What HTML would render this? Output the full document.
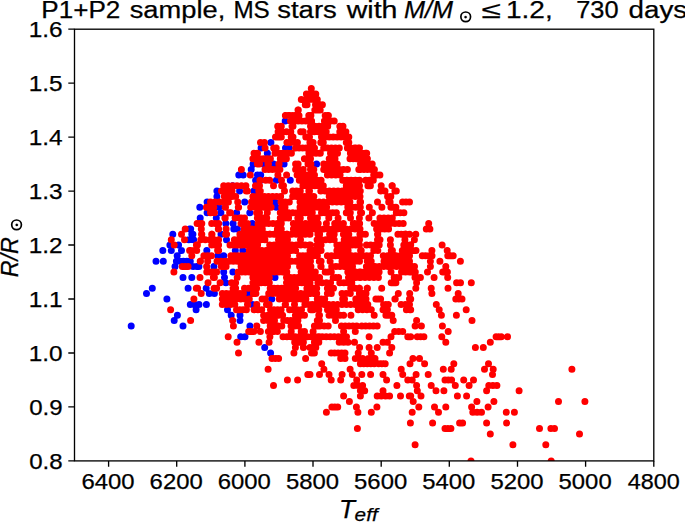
<!DOCTYPE html>
<html><head><meta charset="utf-8"><style>
html,body{margin:0;padding:0;background:#fff;width:685px;height:522px;overflow:hidden}
svg{display:block;font-family:"Liberation Sans", sans-serif}
</style></head><body>
<svg width="685" height="522" viewBox="0 0 685 522">
<rect width="685" height="522" fill="#fff"/>
<defs><clipPath id="c"><rect x="74.5" y="29.2" width="579.3" height="431.7"/></clipPath></defs>
<g clip-path="url(#c)">
<path fill="none" stroke="#0000ff" stroke-width="7.0" stroke-linecap="round" d="M227.5 309.8h0M231.2 315.2h0M240.7 336.8h0M245.0 336.8h0M264.7 347.6h0M270.6 353.0h0M172.8 234.3h0M191.8 234.3h0M188.8 239.7h0M169.9 245.1h0M178.6 245.1h0M162.8 250.4h0M171.3 250.4h0M181.5 250.4h0M177.2 255.8h0M156.0 261.2h0M163.3 261.2h0M176.4 261.2h0M179.9 261.2h0M183.4 261.2h0M186.8 261.2h0M190.3 261.2h0M175.0 266.6h0M193.2 266.6h0M196.8 266.6h0M183.0 277.4h0M191.8 277.4h0M152.3 288.2h0M188.1 288.2h0M146.5 293.6h0M209.3 293.6h0M166.9 299.0h0M190.3 304.4h0M194.7 304.4h0M199.0 304.4h0M206.4 304.4h0M196.1 309.8h0M131.2 326.0h0M183.0 326.0h0M177.4 315.2h0M174.2 320.6h0M207.1 201.9h0M199.8 207.3h0M207.1 212.7h0M189.6 228.9h0M172.8 234.3h0M242.8 250.4h0M275.0 277.4h0M214.4 293.6h0M227.5 309.8h0M316.6 164.1h0M253.1 164.1h0M251.2 169.5h0M238.8 174.9h0M243.2 174.9h0M257.4 174.9h0M255.6 180.3h0M232.6 185.7h0M216.9 191.1h0M239.6 191.1h0M253.8 191.1h0M216.9 196.5h0M263.3 164.1h0M273.5 164.1h0M284.1 164.1h0M260.7 174.9h0M260.7 180.3h0M276.4 180.3h0M290.3 180.3h0M216.9 196.5h0M244.7 201.9h0M218.8 207.3h0M220.9 212.7h0M236.6 212.7h0M249.8 212.7h0M252.3 223.5h0M275.0 201.9h0M276.4 207.3h0M285.2 120.9h0M270.9 142.5h0M261.1 147.9h0M285.5 147.9h0M289.2 147.9h0M267.3 153.3h0M267.4 153.3h0M200.2 218.1h0M216.3 218.1h0M225.8 223.5h0M233.1 223.5h0M190.7 228.9h0M233.8 228.9h0M237.4 228.9h0M192.9 234.3h0M221.0 234.3h0M193.6 239.7h0M226.5 239.7h0M206.8 250.4h0M235.3 250.4h0M248.0 293.6h0M271.8 299.0h0M252.4 304.4h0M240.0 315.2h0M240.0 320.6h0M249.9 326.0h0M271.5 299.0h0M217.9 255.8h0M223.7 255.8h0M198.9 266.6h0M213.9 266.6h0M223.7 272.0h0M232.9 272.0h0M224.5 277.4h0M225.9 282.8h0M206.2 288.2h0"/>
<path fill="none" stroke="#ff0000" stroke-width="7.0" stroke-linecap="round" d="M519.1 390.7h0M558.5 401.5h0M584.9 401.5h0M514.4 412.3h0M539.5 428.5h0M550.9 428.5h0M554.5 428.5h0M579.5 433.9h0M512.9 444.7h0M545.8 444.7h0M551.2 460.9h0M571.9 369.2h0M417.3 390.7h0M436.0 390.7h0M443.9 390.7h0M486.6 390.7h0M410.7 396.1h0M421.0 396.1h0M457.4 396.1h0M466.6 396.1h0M413.2 401.5h0M476.9 401.5h0M493.9 401.5h0M418.8 406.9h0M434.5 406.9h0M445.8 406.9h0M471.6 406.9h0M488.1 406.9h0M412.2 412.3h0M438.5 412.3h0M472.8 412.3h0M477.1 412.3h0M481.5 412.3h0M506.3 412.3h0M410.4 423.1h0M432.6 423.1h0M459.6 423.1h0M462.6 423.1h0M486.6 423.1h0M506.6 423.1h0M445.0 428.5h0M447.9 428.5h0M450.9 428.5h0M490.3 433.9h0M415.1 444.7h0M471.0 460.9h0M410.7 309.8h0M439.2 309.8h0M466.2 309.8h0M441.4 315.2h0M456.4 315.2h0M416.6 320.6h0M472.0 320.6h0M415.1 326.0h0M421.4 326.0h0M442.4 326.0h0M448.2 331.4h0M410.7 336.8h0M417.3 336.8h0M420.6 336.8h0M423.9 336.8h0M441.8 336.8h0M496.1 336.8h0M498.6 336.8h0M501.2 336.8h0M507.5 336.8h0M445.8 342.2h0M490.3 342.2h0M475.4 347.6h0M483.3 347.6h0M412.9 358.4h0M419.5 358.4h0M410.0 363.8h0M424.6 363.8h0M453.8 363.8h0M488.5 363.8h0M443.3 369.2h0M451.2 369.2h0M484.5 369.2h0M493.2 369.2h0M416.1 374.6h0M428.2 374.6h0M492.5 374.6h0M412.2 380.0h0M445.0 380.0h0M448.3 380.0h0M451.6 380.0h0M463.7 380.0h0M473.5 380.0h0M416.6 385.4h0M431.2 385.4h0M455.3 385.4h0M469.1 385.4h0M488.8 385.4h0M492.9 385.4h0M496.9 385.4h0M353.8 385.4h0M358.2 385.4h0M362.6 385.4h0M396.9 385.4h0M360.4 390.7h0M364.7 390.7h0M383.0 390.7h0M343.6 396.1h0M360.4 396.1h0M377.2 396.1h0M381.3 396.1h0M385.5 396.1h0M389.6 396.1h0M400.5 396.1h0M409.3 396.1h0M349.4 401.5h0M331.9 406.9h0M334.8 406.9h0M337.7 406.9h0M356.4 406.9h0M376.9 406.9h0M326.4 412.3h0M357.9 412.3h0M371.3 412.3h0M357.4 428.5h0M318.8 309.8h0M327.5 309.8h0M331.9 309.8h0M336.3 309.8h0M358.2 309.8h0M362.6 309.8h0M366.9 309.8h0M371.3 309.8h0M383.0 309.8h0M387.4 309.8h0M406.4 309.8h0M410.0 309.8h0M329.0 315.2h0M332.6 315.2h0M336.3 315.2h0M340.0 315.2h0M343.6 315.2h0M350.9 315.2h0M374.2 315.2h0M385.9 315.2h0M388.9 315.2h0M391.8 315.2h0M335.5 320.6h0M393.2 320.6h0M319.9 326.0h0M324.1 326.0h0M328.2 326.0h0M341.4 326.0h0M345.2 326.0h0M349.0 326.0h0M352.9 326.0h0M356.7 326.0h0M361.8 326.0h0M365.6 326.0h0M369.5 326.0h0M373.4 326.0h0M377.2 326.0h0M343.6 331.4h0M355.3 331.4h0M394.7 331.4h0M398.7 331.4h0M402.7 331.4h0M318.1 336.8h0M322.2 336.8h0M326.2 336.8h0M330.3 336.8h0M334.3 336.8h0M338.4 336.8h0M342.4 336.8h0M346.5 336.8h0M369.1 336.8h0M391.0 336.8h0M407.8 336.8h0M314.4 342.2h0M318.8 342.2h0M339.2 342.2h0M343.6 342.2h0M348.0 342.2h0M354.5 342.2h0M383.0 342.2h0M387.4 342.2h0M310.0 347.6h0M312.9 347.6h0M315.8 347.6h0M359.6 347.6h0M369.1 347.6h0M377.2 347.6h0M391.8 347.6h0M311.5 353.0h0M314.4 353.0h0M331.2 353.0h0M334.6 353.0h0M338.1 353.0h0M341.6 353.0h0M345.0 353.0h0M358.2 353.0h0M371.3 353.0h0M389.6 353.0h0M340.7 358.4h0M345.0 358.4h0M355.3 358.4h0M359.0 358.4h0M362.6 358.4h0M368.4 358.4h0M371.7 358.4h0M375.0 358.4h0M321.7 363.8h0M360.4 363.8h0M363.8 363.8h0M367.3 363.8h0M370.8 363.8h0M374.2 363.8h0M378.6 363.8h0M381.9 363.8h0M385.2 363.8h0M323.9 369.2h0M350.1 369.2h0M401.2 369.2h0M310.0 374.6h0M319.5 374.6h0M329.0 374.6h0M342.1 374.6h0M352.3 374.6h0M361.8 374.6h0M370.6 374.6h0M383.0 374.6h0M402.7 374.6h0M331.2 380.0h0M340.7 380.0h0M356.7 380.0h0M386.6 380.0h0M407.8 380.0h0M232.6 320.6h0M233.4 326.0h0M248.7 331.4h0M251.2 331.4h0M253.8 331.4h0M260.4 331.4h0M268.4 331.4h0M271.8 331.4h0M228.2 336.8h0M269.9 336.8h0M237.0 342.2h0M258.9 342.2h0M269.1 342.2h0M294.7 342.2h0M299.0 342.2h0M303.4 342.2h0M295.4 347.6h0M303.4 347.6h0M238.5 353.0h0M293.9 353.0h0M272.0 358.4h0M275.3 358.4h0M278.6 358.4h0M305.6 358.4h0M268.1 369.2h0M307.8 374.6h0M287.4 380.0h0M297.6 380.0h0M273.5 385.4h0M181.5 234.3h0M171.3 239.7h0M184.5 239.7h0M174.2 245.1h0M189.6 250.4h0M191.8 255.8h0M182.3 266.6h0M185.2 266.6h0M188.1 266.6h0M173.9 272.0h0M197.6 288.2h0M201.2 293.6h0M193.9 299.0h0M170.6 309.8h0M190.6 320.6h0M206.4 207.3h0M210.0 207.3h0M185.2 228.9h0M181.5 234.3h0M240.8 234.3h0M245.0 234.3h0M249.2 234.3h0M253.4 234.3h0M257.5 234.3h0M261.7 234.3h0M265.9 234.3h0M270.1 234.3h0M274.3 234.3h0M278.4 234.3h0M282.6 234.3h0M286.8 234.3h0M301.1 234.3h0M305.3 234.3h0M309.5 234.3h0M241.1 239.7h0M245.1 239.7h0M249.1 239.7h0M253.0 239.7h0M257.0 239.7h0M260.9 239.7h0M264.9 239.7h0M278.5 239.7h0M281.5 239.7h0M284.5 239.7h0M287.5 239.7h0M300.5 239.7h0M238.1 245.1h0M242.0 245.1h0M245.9 245.1h0M249.8 245.1h0M253.7 245.1h0M257.6 245.1h0M269.7 245.1h0M274.1 245.1h0M278.5 245.1h0M283.0 245.1h0M287.4 245.1h0M291.8 245.1h0M296.2 245.1h0M300.7 245.1h0M305.1 245.1h0M309.5 245.1h0M249.3 250.4h0M253.5 250.4h0M257.7 250.4h0M261.9 250.4h0M266.1 250.4h0M270.3 250.4h0M274.5 250.4h0M278.7 250.4h0M282.9 250.4h0M287.1 250.4h0M291.3 250.4h0M295.6 250.4h0M310.0 250.4h0M247.4 255.8h0M251.9 255.8h0M256.3 255.8h0M260.8 255.8h0M265.2 255.8h0M269.7 255.8h0M274.1 255.8h0M278.6 255.8h0M283.1 255.8h0M287.5 255.8h0M299.6 255.8h0M302.9 255.8h0M306.2 255.8h0M309.5 255.8h0M246.5 261.2h0M251.0 261.2h0M255.5 261.2h0M260.0 261.2h0M264.5 261.2h0M269.0 261.2h0M273.5 261.2h0M278.0 261.2h0M282.5 261.2h0M287.0 261.2h0M291.5 261.2h0M296.0 261.2h0M300.5 261.2h0M305.0 261.2h0M309.5 261.2h0M245.4 266.6h0M249.7 266.6h0M253.9 266.6h0M258.1 266.6h0M262.3 266.6h0M266.5 266.6h0M270.7 266.6h0M274.9 266.6h0M279.1 266.6h0M283.3 266.6h0M287.5 266.6h0M299.6 266.6h0M302.9 266.6h0M306.2 266.6h0M309.5 266.6h0M245.2 272.0h0M249.3 272.0h0M253.5 272.0h0M257.7 272.0h0M261.8 272.0h0M266.0 272.0h0M270.1 272.0h0M274.3 272.0h0M278.5 272.0h0M282.6 272.0h0M286.8 272.0h0M301.1 272.0h0M305.3 272.0h0M309.5 272.0h0M252.9 277.4h0M257.0 277.4h0M261.1 277.4h0M265.2 277.4h0M269.3 277.4h0M286.5 277.4h0M290.3 277.4h0M294.2 277.4h0M298.0 277.4h0M301.8 277.4h0M305.7 277.4h0M309.5 277.4h0M252.9 282.8h0M257.0 282.8h0M261.1 282.8h0M265.2 282.8h0M269.3 282.8h0M286.5 282.8h0M290.3 282.8h0M294.2 282.8h0M298.0 282.8h0M301.8 282.8h0M305.7 282.8h0M309.5 282.8h0M287.8 288.2h0M291.7 288.2h0M295.6 288.2h0M306.9 288.2h0M309.5 288.2h0M222.3 293.6h0M226.3 293.6h0M230.3 293.6h0M234.3 293.6h0M287.8 293.6h0M292.1 293.6h0M296.5 293.6h0M300.8 293.6h0M305.2 293.6h0M309.5 293.6h0M222.3 299.0h0M226.5 299.0h0M230.8 299.0h0M235.0 299.0h0M222.3 304.4h0M226.4 304.4h0M230.6 304.4h0M234.8 304.4h0M236.9 309.8h0M405.9 234.3h0M409.5 234.3h0M310.5 245.1h0M405.5 245.1h0M407.9 245.1h0M410.2 245.1h0M310.5 250.4h0M405.3 250.4h0M409.5 250.4h0M310.5 255.8h0M405.2 255.8h0M409.5 255.8h0M310.5 261.2h0M405.3 261.2h0M409.5 261.2h0M310.5 266.6h0M409.5 266.6h0M310.5 272.0h0M310.5 277.4h0M310.0 282.8h0M310.5 288.2h0M310.5 293.6h0M359.4 293.6h0M409.7 293.6h0M359.8 299.0h0M409.5 299.0h0M360.2 304.4h0M364.0 304.4h0M367.8 304.4h0M383.6 304.4h0M385.9 304.4h0M388.3 304.4h0M401.1 304.4h0M405.3 304.4h0M409.5 304.4h0M415.8 234.3h0M414.4 239.7h0M410.7 245.1h0M442.1 245.1h0M410.5 250.4h0M413.2 250.4h0M416.0 250.4h0M431.9 250.4h0M447.2 250.4h0M422.3 255.8h0M425.5 255.8h0M428.8 255.8h0M432.0 255.8h0M447.8 255.8h0M450.5 255.8h0M453.2 255.8h0M430.4 261.2h0M439.9 261.2h0M460.4 261.2h0M410.5 266.6h0M414.5 266.6h0M430.4 266.6h0M445.8 266.6h0M410.5 272.0h0M412.9 272.0h0M415.3 272.0h0M427.5 272.0h0M442.7 272.0h0M445.0 272.0h0M447.4 272.0h0M415.0 277.4h0M417.7 277.4h0M420.4 277.4h0M434.1 277.4h0M447.7 277.4h0M416.6 282.8h0M456.6 282.8h0M460.5 282.8h0M471.3 282.8h0M415.8 288.2h0M431.2 288.2h0M448.0 288.2h0M431.9 293.6h0M458.2 293.6h0M410.7 299.0h0M455.8 299.0h0M458.9 299.0h0M462.0 299.0h0M436.3 304.4h0M428.7 223.5h0M426.3 228.9h0M429.9 228.9h0M310.5 158.7h0M310.5 158.7h0M329.2 158.7h0M332.1 158.7h0M335.0 158.7h0M350.0 158.7h0M353.2 158.7h0M356.3 158.7h0M359.5 158.7h0M310.5 164.1h0M310.9 164.1h0M323.7 164.1h0M328.2 164.1h0M332.7 164.1h0M337.2 164.1h0M310.5 169.5h0M313.8 169.5h0M323.7 169.5h0M327.7 169.5h0M331.6 169.5h0M335.5 169.5h0M339.5 169.5h0M343.4 169.5h0M347.4 169.5h0M358.8 169.5h0M359.5 169.5h0M310.5 174.9h0M314.5 174.9h0M327.4 174.9h0M331.6 174.9h0M335.8 174.9h0M340.1 174.9h0M310.5 180.3h0M314.0 180.3h0M317.6 180.3h0M321.1 180.3h0M342.7 180.3h0M346.9 180.3h0M351.1 180.3h0M355.3 180.3h0M359.5 180.3h0M310.5 185.7h0M314.8 185.7h0M319.0 185.7h0M323.3 185.7h0M346.3 185.7h0M350.7 185.7h0M355.1 185.7h0M359.5 185.7h0M320.8 191.1h0M325.1 191.1h0M329.4 191.1h0M333.7 191.1h0M338.0 191.1h0M342.3 191.1h0M346.6 191.1h0M350.9 191.1h0M355.2 191.1h0M359.5 191.1h0M360.5 158.7h0M364.0 158.7h0M367.4 158.7h0M360.5 164.1h0M364.4 164.1h0M368.3 164.1h0M372.2 164.1h0M360.5 169.5h0M364.0 169.5h0M367.4 169.5h0M370.9 169.5h0M374.4 169.5h0M373.7 174.9h0M376.8 174.9h0M379.9 174.9h0M365.7 180.3h0M369.5 180.3h0M373.3 180.3h0M367.9 185.7h0M370.4 185.7h0M381.2 185.7h0M392.0 185.7h0M392.3 185.7h0M360.3 191.1h0M380.7 191.1h0M385.0 191.1h0M394.9 191.1h0M396.3 191.1h0M310.5 196.5h0M313.8 196.5h0M329.2 196.5h0M333.5 196.5h0M337.9 196.5h0M342.2 196.5h0M346.5 196.5h0M350.8 196.5h0M355.2 196.5h0M359.5 196.5h0M310.5 201.9h0M314.9 201.9h0M319.3 201.9h0M323.6 201.9h0M328.0 201.9h0M332.4 201.9h0M336.8 201.9h0M341.2 201.9h0M345.5 201.9h0M349.9 201.9h0M360.6 201.9h0M310.5 207.3h0M314.5 207.3h0M318.5 207.3h0M322.6 207.3h0M326.6 207.3h0M347.8 207.3h0M351.7 207.3h0M355.6 207.3h0M359.5 207.3h0M310.5 212.7h0M312.3 212.7h0M321.5 212.7h0M325.3 212.7h0M329.0 212.7h0M332.7 212.7h0M336.4 212.7h0M346.3 212.7h0M350.3 212.7h0M310.5 218.1h0M314.0 218.1h0M317.4 218.1h0M328.8 218.1h0M338.1 218.1h0M350.5 218.1h0M310.5 223.5h0M314.3 223.5h0M318.2 223.5h0M326.4 223.5h0M334.7 223.5h0M339.0 223.5h0M343.4 223.5h0M353.3 223.5h0M356.4 223.5h0M359.5 223.5h0M310.5 228.9h0M315.0 228.9h0M319.4 228.9h0M323.9 228.9h0M328.3 228.9h0M332.8 228.9h0M337.2 228.9h0M341.7 228.9h0M346.1 228.9h0M350.6 228.9h0M355.0 228.9h0M359.5 228.9h0M310.0 234.3h0M360.0 196.5h0M387.6 196.5h0M390.8 196.5h0M360.0 201.9h0M377.5 201.9h0M388.7 201.9h0M390.1 201.9h0M402.6 201.9h0M406.0 201.9h0M409.5 201.9h0M360.3 207.3h0M369.3 207.3h0M381.9 207.3h0M390.9 207.3h0M393.4 207.3h0M395.9 207.3h0M360.5 212.7h0M361.6 212.7h0M372.4 212.7h0M396.3 212.7h0M400.1 212.7h0M403.9 212.7h0M359.4 218.1h0M368.9 218.1h0M379.9 218.1h0M384.0 218.1h0M388.2 218.1h0M392.3 218.1h0M359.6 223.5h0M374.1 223.5h0M378.2 223.5h0M382.4 223.5h0M386.6 223.5h0M390.7 223.5h0M394.9 223.5h0M399.1 223.5h0M403.2 223.5h0M360.0 228.9h0M376.6 228.9h0M380.6 228.9h0M384.6 228.9h0M388.6 228.9h0M405.8 234.3h0M409.5 234.3h0M252.9 158.7h0M256.2 158.7h0M259.5 158.7h0M257.3 164.1h0M259.5 164.1h0M241.4 169.5h0M250.3 174.9h0M259.9 180.3h0M223.7 185.7h0M228.2 185.7h0M232.6 185.7h0M237.0 185.7h0M241.5 185.7h0M245.9 185.7h0M255.5 185.7h0M259.5 185.7h0M221.5 191.1h0M225.0 191.1h0M228.5 191.1h0M232.0 191.1h0M246.3 191.1h0M247.4 191.1h0M258.8 191.1h0M259.5 191.1h0M260.5 158.7h0M263.8 158.7h0M267.1 158.7h0M270.4 158.7h0M280.3 158.7h0M283.4 158.7h0M286.4 158.7h0M304.4 158.7h0M306.9 158.7h0M309.5 158.7h0M267.9 164.1h0M268.5 164.1h0M278.8 164.1h0M279.1 164.1h0M295.6 164.1h0M298.1 164.1h0M308.0 164.1h0M309.5 164.1h0M265.0 169.5h0M268.7 169.5h0M272.4 169.5h0M276.1 169.5h0M279.9 169.5h0M295.6 169.5h0M299.4 169.5h0M303.2 169.5h0M311.0 169.5h0M277.9 174.9h0M286.6 174.9h0M297.1 174.9h0M301.2 174.9h0M305.4 174.9h0M309.5 174.9h0M265.7 180.3h0M269.6 180.3h0M281.5 180.3h0M299.3 180.3h0M302.7 180.3h0M306.1 180.3h0M309.5 180.3h0M273.5 185.7h0M281.7 185.7h0M283.5 185.7h0M302.9 185.7h0M306.2 185.7h0M309.5 185.7h0M260.3 191.1h0M284.5 191.1h0M292.7 191.1h0M296.5 191.1h0M300.3 191.1h0M308.8 191.1h0M309.5 191.1h0M224.4 196.5h0M228.2 196.5h0M231.9 196.5h0M235.7 196.5h0M252.9 196.5h0M256.2 196.5h0M259.5 196.5h0M210.5 201.9h0M215.0 201.9h0M219.4 201.9h0M223.9 201.9h0M228.4 201.9h0M237.7 201.9h0M251.5 201.9h0M255.5 201.9h0M259.5 201.9h0M210.5 207.3h0M213.8 207.3h0M225.2 207.3h0M225.5 207.3h0M238.3 207.3h0M238.6 207.3h0M250.7 207.3h0M255.1 207.3h0M259.5 207.3h0M210.5 212.7h0M214.5 212.7h0M229.6 212.7h0M230.6 212.7h0M256.6 212.7h0M259.5 212.7h0M241.2 218.1h0M244.5 218.1h0M257.3 218.1h0M259.5 218.1h0M242.7 223.5h0M245.0 223.5h0M247.4 223.5h0M258.0 223.5h0M259.5 223.5h0M244.2 228.9h0M248.0 228.9h0M251.8 228.9h0M255.7 228.9h0M259.5 228.9h0M260.5 196.5h0M264.5 196.5h0M268.5 196.5h0M272.6 196.5h0M276.6 196.5h0M280.6 196.5h0M292.7 196.5h0M296.7 196.5h0M300.7 196.5h0M304.7 196.5h0M260.5 201.9h0M263.5 201.9h0M266.6 201.9h0M269.6 201.9h0M281.0 201.9h0M285.2 201.9h0M289.3 201.9h0M300.0 201.9h0M303.2 201.9h0M306.3 201.9h0M309.5 201.9h0M260.5 207.3h0M264.0 207.3h0M267.6 207.3h0M271.1 207.3h0M281.7 207.3h0M285.0 207.3h0M300.0 207.3h0M303.2 207.3h0M306.3 207.3h0M309.5 207.3h0M267.3 212.7h0M280.3 212.7h0M284.5 212.7h0M288.6 212.7h0M292.8 212.7h0M297.0 212.7h0M301.2 212.7h0M305.3 212.7h0M309.5 212.7h0M260.5 218.1h0M263.6 218.1h0M266.7 218.1h0M280.3 218.1h0M284.5 218.1h0M288.6 218.1h0M297.8 218.1h0M300.3 218.1h0M311.0 218.1h0M260.5 223.5h0M264.7 223.5h0M268.8 223.5h0M273.0 223.5h0M277.2 223.5h0M281.3 223.5h0M293.4 223.5h0M297.4 223.5h0M301.5 223.5h0M305.5 223.5h0M309.5 223.5h0M260.5 228.9h0M262.3 228.9h0M277.4 228.9h0M281.3 228.9h0M293.4 228.9h0M297.4 228.9h0M301.5 228.9h0M305.5 228.9h0M309.5 228.9h0M260.5 234.3h0M265.0 234.3h0M269.4 234.3h0M273.9 234.3h0M278.3 234.3h0M282.8 234.3h0M287.2 234.3h0M291.7 234.3h0M296.1 234.3h0M300.6 234.3h0M305.0 234.3h0M309.5 234.3h0M311.3 88.6h0M306.4 94.0h0M309.5 94.0h0M312.7 94.0h0M315.8 94.0h0M301.3 99.4h0M305.3 99.4h0M309.3 99.4h0M313.3 99.4h0M317.3 99.4h0M305.3 104.7h0M307.0 104.7h0M315.5 104.7h0M318.9 104.7h0M322.4 104.7h0M298.0 110.1h0M298.3 110.1h0M314.8 110.1h0M317.5 110.1h0M320.2 110.1h0M285.5 115.5h0M288.9 115.5h0M292.3 115.5h0M295.6 115.5h0M299.0 115.5h0M308.9 115.5h0M310.7 115.5h0M327.2 115.5h0M328.2 115.5h0M285.4 115.5h0M289.9 115.5h0M294.4 115.5h0M298.8 115.5h0M308.8 115.5h0M309.5 115.5h0M290.5 120.9h0M294.3 120.9h0M298.1 120.9h0M301.9 120.9h0M305.7 120.9h0M309.5 120.9h0M277.7 126.3h0M281.3 126.3h0M292.0 126.3h0M293.0 126.3h0M310.6 126.3h0M278.1 131.7h0M282.3 131.7h0M286.6 131.7h0M290.8 131.7h0M300.7 131.7h0M303.2 131.7h0M275.5 137.1h0M278.4 137.1h0M281.3 137.1h0M291.2 137.1h0M293.0 137.1h0M305.8 137.1h0M309.5 137.1h0M260.5 142.5h0M264.5 142.5h0M286.9 142.5h0M290.4 142.5h0M293.9 142.5h0M297.4 142.5h0M309.9 142.5h0M265.1 147.9h0M273.7 147.9h0M276.2 147.9h0M295.6 147.9h0M299.1 147.9h0M302.6 147.9h0M306.0 147.9h0M309.5 147.9h0M310.5 115.5h0M310.9 115.5h0M325.2 115.5h0M328.4 115.5h0M310.5 120.9h0M311.6 120.9h0M324.4 120.9h0M327.7 120.9h0M331.0 120.9h0M334.2 120.9h0M310.5 126.3h0M314.8 126.3h0M319.1 126.3h0M323.4 126.3h0M327.7 126.3h0M339.8 126.3h0M343.0 126.3h0M310.5 131.7h0M314.4 131.7h0M318.4 131.7h0M322.3 131.7h0M326.2 131.7h0M339.8 131.7h0M342.8 131.7h0M345.9 131.7h0M321.5 137.1h0M325.4 137.1h0M329.3 137.1h0M333.2 137.1h0M337.1 137.1h0M341.0 137.1h0M344.9 137.1h0M348.8 137.1h0M310.5 142.5h0M313.1 142.5h0M320.8 142.5h0M323.3 142.5h0M346.3 142.5h0M348.8 142.5h0M310.5 147.9h0M314.5 147.9h0M323.7 147.9h0M327.6 147.9h0M331.5 147.9h0M335.4 147.9h0M339.3 147.9h0M347.4 147.9h0M355.8 147.9h0M359.5 147.9h0M350.5 147.9h0M354.5 147.9h0M358.5 147.9h0M365.5 153.3h0M254.0 153.3h0M257.5 153.3h0M275.0 153.3h0M279.1 153.3h0M283.2 153.3h0M287.3 153.3h0M291.4 153.3h0M308.9 153.3h0M312.4 153.3h0M316.0 153.3h0M319.5 153.3h0M320.3 153.3h0M330.5 153.3h0M334.0 153.3h0M337.5 153.3h0M350.4 153.3h0M354.5 153.3h0M358.5 153.3h0M362.6 153.3h0M366.7 153.3h0M224.9 218.1h0M225.2 218.1h0M235.1 218.1h0M239.5 218.1h0M197.1 223.5h0M199.5 223.5h0M201.8 223.5h0M211.7 223.5h0M215.2 223.5h0M218.6 223.5h0M241.0 223.5h0M201.3 228.9h0M218.3 228.9h0M218.6 228.9h0M226.1 228.9h0M201.5 234.3h0M201.8 234.3h0M211.7 234.3h0M212.0 234.3h0M225.6 234.3h0M226.6 234.3h0M239.9 234.3h0M200.8 239.7h0M205.3 239.7h0M209.7 239.7h0M214.2 239.7h0M218.6 239.7h0M234.4 239.7h0M236.9 239.7h0M239.5 239.7h0M196.4 245.1h0M197.4 245.1h0M211.7 245.1h0M215.2 245.1h0M218.6 245.1h0M230.0 245.1h0M233.2 245.1h0M236.3 245.1h0M239.5 245.1h0M190.5 250.4h0M193.6 250.4h0M196.7 250.4h0M217.6 250.4h0M218.6 250.4h0M362.1 234.3h0M365.4 234.3h0M377.5 234.3h0M377.8 234.3h0M397.9 234.3h0M401.2 234.3h0M404.5 234.3h0M377.5 239.7h0M380.0 239.7h0M390.4 239.7h0M404.9 239.7h0M366.5 245.1h0M370.8 245.1h0M375.0 245.1h0M379.2 245.1h0M390.4 245.1h0M403.8 245.1h0M404.5 245.1h0M361.2 250.4h0M373.8 250.4h0M377.8 250.4h0M391.3 250.4h0M392.4 250.4h0M402.3 250.4h0M404.5 250.4h0M359.2 255.8h0M363.0 255.8h0M366.7 255.8h0M370.5 255.8h0M383.3 255.8h0M387.6 255.8h0M391.8 255.8h0M396.0 255.8h0M400.3 255.8h0M404.5 255.8h0M367.3 261.2h0M371.2 261.2h0M384.0 261.2h0M388.1 261.2h0M392.2 261.2h0M396.3 261.2h0M400.4 261.2h0M404.5 261.2h0M309.6 234.3h0M317.9 234.3h0M319.6 234.3h0M329.6 234.3h0M331.9 234.3h0M334.2 234.3h0M343.4 234.3h0M346.1 234.3h0M348.8 234.3h0M359.9 234.3h0M317.1 239.7h0M321.4 239.7h0M325.7 239.7h0M330.0 239.7h0M334.2 239.7h0M344.2 239.7h0M348.0 239.7h0M351.8 239.7h0M355.7 239.7h0M359.5 239.7h0M317.1 245.1h0M321.1 245.1h0M336.9 245.1h0M340.6 245.1h0M344.4 245.1h0M348.2 245.1h0M352.0 245.1h0M355.7 245.1h0M359.5 245.1h0M310.5 250.4h0M314.0 250.4h0M317.6 250.4h0M321.1 250.4h0M336.9 250.4h0M340.6 250.4h0M344.4 250.4h0M348.1 250.4h0M360.6 250.4h0M310.5 255.8h0M314.0 255.8h0M317.4 255.8h0M327.4 255.8h0M331.4 255.8h0M335.4 255.8h0M339.4 255.8h0M343.4 255.8h0M347.5 255.8h0M351.5 255.8h0M355.5 255.8h0M359.5 255.8h0M310.3 261.2h0M319.3 261.2h0M321.1 261.2h0M330.1 261.2h0M342.0 261.2h0M346.4 261.2h0M350.7 261.2h0M355.1 261.2h0M359.5 261.2h0M310.5 266.6h0M310.9 266.6h0M320.8 266.6h0M321.1 266.6h0M331.7 266.6h0M335.9 266.6h0M340.0 266.6h0M344.2 266.6h0M348.3 266.6h0M352.5 266.6h0M310.5 272.0h0M312.9 272.0h0M315.3 272.0h0M325.2 272.0h0M328.2 272.0h0M331.3 272.0h0M347.8 272.0h0M351.7 272.0h0M355.6 272.0h0M359.5 272.0h0M310.5 277.4h0M313.5 277.4h0M316.6 277.4h0M319.6 277.4h0M333.2 277.4h0M335.9 277.4h0M338.6 277.4h0M348.5 277.4h0M352.2 277.4h0M355.8 277.4h0M359.5 277.4h0M309.6 282.8h0M317.9 282.8h0M322.1 282.8h0M326.4 282.8h0M330.6 282.8h0M339.8 282.8h0M343.8 282.8h0M347.8 282.8h0M351.8 282.8h0M310.5 288.2h0M313.6 288.2h0M316.7 288.2h0M327.4 288.2h0M330.4 288.2h0M333.5 288.2h0M350.7 288.2h0M355.1 288.2h0M359.5 288.2h0M310.5 293.6h0M313.6 293.6h0M316.7 293.6h0M327.4 293.6h0M331.3 293.6h0M342.0 293.6h0M346.1 293.6h0M350.3 293.6h0M321.3 299.0h0M324.7 299.0h0M342.7 299.0h0M344.5 299.0h0M355.8 299.0h0M359.5 299.0h0M324.4 304.4h0M328.8 304.4h0M333.2 304.4h0M337.6 304.4h0M342.0 304.4h0M346.4 304.4h0M350.7 304.4h0M355.1 304.4h0M359.5 304.4h0M366.4 266.6h0M370.7 266.6h0M375.0 266.6h0M379.3 266.6h0M383.7 266.6h0M388.0 266.6h0M392.3 266.6h0M396.6 266.6h0M400.9 266.6h0M405.2 266.6h0M409.5 266.6h0M360.5 272.0h0M364.2 272.0h0M368.0 272.0h0M371.7 272.0h0M375.4 272.0h0M379.1 272.0h0M391.0 272.0h0M401.5 272.0h0M405.5 272.0h0M409.5 272.0h0M360.5 277.4h0M365.0 277.4h0M369.4 277.4h0M373.9 277.4h0M378.4 277.4h0M394.2 277.4h0M396.5 277.4h0M398.8 277.4h0M391.2 282.8h0M393.6 282.8h0M395.9 282.8h0M359.2 288.2h0M367.1 288.2h0M367.4 288.2h0M381.7 288.2h0M360.5 293.6h0M363.2 293.6h0M366.0 293.6h0M398.3 293.6h0M360.5 299.0h0M363.2 299.0h0M366.0 299.0h0M375.9 299.0h0M378.2 299.0h0M380.6 299.0h0M394.9 299.0h0M395.2 299.0h0M409.9 299.0h0M244.5 288.2h0M248.6 288.2h0M252.6 288.2h0M256.6 288.2h0M270.2 288.2h0M274.0 288.2h0M277.8 288.2h0M281.7 288.2h0M285.5 288.2h0M236.5 293.6h0M240.0 293.6h0M243.4 293.6h0M253.4 293.6h0M255.9 293.6h0M268.7 293.6h0M272.9 293.6h0M277.1 293.6h0M281.3 293.6h0M285.5 293.6h0M236.5 299.0h0M240.8 299.0h0M245.0 299.0h0M249.3 299.0h0M262.1 299.0h0M265.3 299.0h0M247.5 304.4h0M247.8 304.4h0M256.8 304.4h0M266.5 304.4h0M268.3 304.4h0M236.5 309.8h0M239.8 309.8h0M243.1 309.8h0M246.4 309.8h0M254.1 309.8h0M257.9 309.8h0M261.7 309.8h0M263.6 315.2h0M268.0 315.2h0M263.6 320.6h0M268.0 320.6h0M256.8 326.0h0M270.2 326.0h0M279.3 299.0h0M283.8 299.0h0M288.2 299.0h0M292.6 299.0h0M297.1 299.0h0M301.5 299.0h0M305.9 299.0h0M317.3 299.0h0M319.5 299.0h0M269.2 304.4h0M285.2 304.4h0M285.5 304.4h0M294.5 304.4h0M304.9 304.4h0M308.5 304.4h0M312.2 304.4h0M315.8 304.4h0M319.5 304.4h0M270.5 309.8h0M274.0 309.8h0M277.6 309.8h0M281.1 309.8h0M289.6 309.8h0M293.6 309.8h0M297.5 309.8h0M301.5 309.8h0M310.7 309.8h0M313.2 309.8h0M270.5 315.2h0M274.5 315.2h0M278.5 315.2h0M282.6 315.2h0M295.4 315.2h0M298.4 315.2h0M301.4 315.2h0M304.5 315.2h0M318.8 315.2h0M319.5 315.2h0M270.5 320.6h0M274.5 320.6h0M283.7 320.6h0M287.3 320.6h0M290.8 320.6h0M294.3 320.6h0M297.9 320.6h0M317.3 320.6h0M319.5 320.6h0M270.5 326.0h0M274.3 326.0h0M278.1 326.0h0M281.8 326.0h0M291.0 326.0h0M294.8 326.0h0M298.6 326.0h0M314.4 326.0h0M316.9 326.0h0M319.5 326.0h0M270.5 331.4h0M274.0 331.4h0M277.4 331.4h0M291.2 331.4h0M301.2 331.4h0M304.5 331.4h0M313.1 331.4h0M283.0 336.8h0M287.0 336.8h0M291.1 336.8h0M295.2 336.8h0M299.2 336.8h0M303.3 336.8h0M307.3 336.8h0M311.4 336.8h0M315.4 336.8h0M319.5 336.8h0M203.9 255.8h0M207.7 255.8h0M211.5 255.8h0M230.9 255.8h0M234.5 255.8h0M238.2 255.8h0M241.8 255.8h0M245.5 255.8h0M200.2 261.2h0M200.5 261.2h0M207.7 261.2h0M217.0 261.2h0M221.1 261.2h0M225.2 261.2h0M229.2 261.2h0M233.3 261.2h0M237.4 261.2h0M241.4 261.2h0M245.5 261.2h0M206.6 266.6h0M221.4 266.6h0M223.7 266.6h0M226.1 266.6h0M241.1 266.6h0M245.5 266.6h0M206.8 272.0h0M210.1 272.0h0M213.3 272.0h0M216.6 272.0h0M238.2 272.0h0M241.8 272.0h0M245.5 272.0h0M200.0 277.4h0M213.4 277.4h0M214.4 277.4h0M237.2 277.4h0M208.0 282.8h0M220.1 282.8h0M231.6 282.8h0M235.6 282.8h0M196.3 288.2h0M214.1 288.2h0M216.6 288.2h0M233.1 288.2h0M235.6 288.2h0"/>
<path fill="none" stroke="#0000ff" stroke-width="7.0" stroke-linecap="round" d=""/>

</g>
<rect x="74.5" y="29.2" width="579.3" height="431.7" fill="none" stroke="#000" stroke-width="1.33"/>
<path d="M68.3 29.2H74.5M108.6 460.9V466.7M68.3 83.2H74.5M176.7 460.9V466.7M68.3 137.1H74.5M244.9 460.9V466.7M68.3 191.1H74.5M313.0 460.9V466.7M68.3 245.0H74.5M381.2 460.9V466.7M68.3 299.0H74.5M449.3 460.9V466.7M68.3 353.0H74.5M517.5 460.9V466.7M68.3 406.9H74.5M585.6 460.9V466.7M68.3 460.9H74.5M653.8 460.9V466.7" stroke="#000" stroke-width="1.33"/>
<g fill="#000" stroke="#000" stroke-width="0.25">
<text x="41.26" y="18.2" font-size="23.3" textLength="79.12" lengthAdjust="spacingAndGlyphs">P1+P2</text><text x="129.73" y="18.2" font-size="23.3" textLength="95.52" lengthAdjust="spacingAndGlyphs">sample,</text><text x="233.42" y="18.2" font-size="23.3" textLength="36.37" lengthAdjust="spacingAndGlyphs">MS</text><text x="277.22" y="18.2" font-size="23.3" textLength="59.55" lengthAdjust="spacingAndGlyphs">stars</text><text x="346.70" y="18.2" font-size="23.3" textLength="50.76" lengthAdjust="spacingAndGlyphs">with</text><text x="404.12" y="18.2" font-size="23.3" font-style="italic" textLength="49.02" lengthAdjust="spacingAndGlyphs">M/M</text><text x="481.48" y="18.2" font-size="23.3" textLength="19.43" lengthAdjust="spacingAndGlyphs">≤</text><text x="505.99" y="18.2" font-size="23.3" textLength="46.74" lengthAdjust="spacingAndGlyphs">1.2,</text><text x="576.21" y="18.2" font-size="23.3" textLength="42.34" lengthAdjust="spacingAndGlyphs">730</text><text x="628.61" y="18.2" font-size="23.3" textLength="58.65" lengthAdjust="spacingAndGlyphs">days</text><text x="28.79" y="37.45" font-size="22" textLength="33.87" lengthAdjust="spacingAndGlyphs">1.6</text><text x="28.79" y="91.41" font-size="22" textLength="33.87" lengthAdjust="spacingAndGlyphs">1.5</text><text x="28.79" y="145.38" font-size="22" textLength="33.87" lengthAdjust="spacingAndGlyphs">1.4</text><text x="28.79" y="199.34" font-size="22" textLength="33.87" lengthAdjust="spacingAndGlyphs">1.3</text><text x="28.79" y="253.3" font-size="22" textLength="33.87" lengthAdjust="spacingAndGlyphs">1.2</text><text x="28.79" y="307.26" font-size="22" textLength="33.87" lengthAdjust="spacingAndGlyphs">1.1</text><text x="28.79" y="361.23" font-size="22" textLength="33.87" lengthAdjust="spacingAndGlyphs">1.0</text><text x="29.21" y="415.19" font-size="22" textLength="33.44" lengthAdjust="spacingAndGlyphs">0.9</text><text x="29.21" y="469.15" font-size="22" textLength="33.44" lengthAdjust="spacingAndGlyphs">0.8</text><text x="81.49" y="488.7" font-size="22" textLength="53.12" lengthAdjust="spacingAndGlyphs">6400</text><text x="149.64" y="488.7" font-size="22" textLength="53.12" lengthAdjust="spacingAndGlyphs">6200</text><text x="217.79" y="488.7" font-size="22" textLength="53.12" lengthAdjust="spacingAndGlyphs">6000</text><text x="285.95" y="488.7" font-size="22" textLength="53.12" lengthAdjust="spacingAndGlyphs">5800</text><text x="354.10" y="488.7" font-size="22" textLength="53.12" lengthAdjust="spacingAndGlyphs">5600</text><text x="422.25" y="488.7" font-size="22" textLength="53.12" lengthAdjust="spacingAndGlyphs">5400</text><text x="490.40" y="488.7" font-size="22" textLength="53.12" lengthAdjust="spacingAndGlyphs">5200</text><text x="558.56" y="488.7" font-size="22" textLength="53.12" lengthAdjust="spacingAndGlyphs">5000</text><text x="627.80" y="488.7" font-size="22" textLength="52.01" lengthAdjust="spacingAndGlyphs">4800</text><text x="339.11" y="517.6" font-size="25" font-style="italic" textLength="15.99" lengthAdjust="spacingAndGlyphs">T</text><text x="354.62" y="521.3" font-size="17.5" font-style="italic" textLength="23.07" lengthAdjust="spacingAndGlyphs">eff</text><text transform="translate(18.0 277.37) rotate(-90)" font-size="24" font-style="italic" textLength="40.10" lengthAdjust="spacingAndGlyphs">R/R</text>
<circle cx="465.7" cy="16.85" r="4.85" fill="none" stroke="#000" stroke-width="1.7"/><circle cx="465.6" cy="17.1" r="1.2" fill="#000"/><circle cx="16.55" cy="224.85" r="4.85" fill="none" stroke="#000" stroke-width="1.7"/><circle cx="16.8" cy="224.9" r="1.2" fill="#000"/>
</g>
</svg>
</body></html>
